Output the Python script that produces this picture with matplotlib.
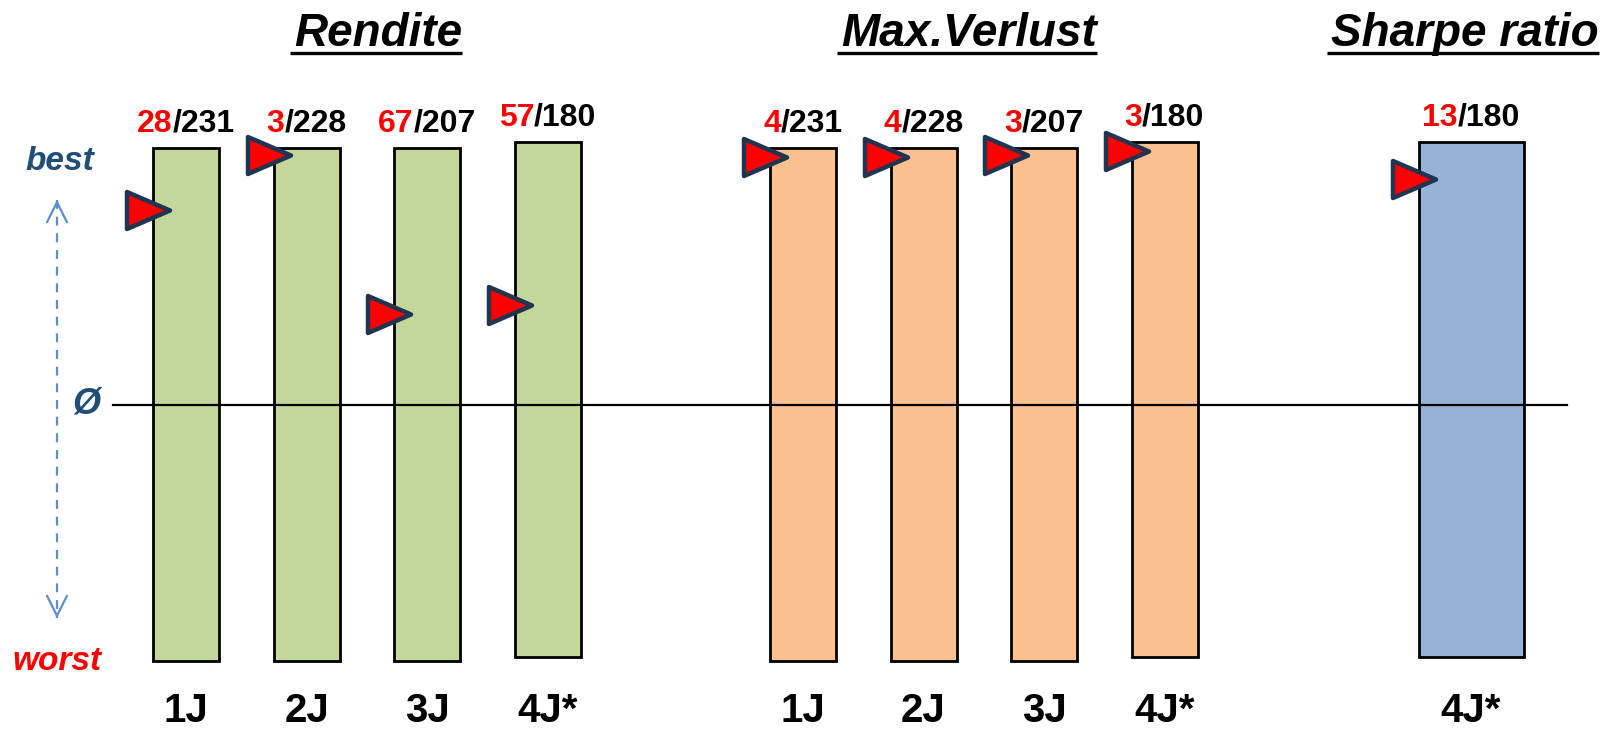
import matplotlib
matplotlib.use('Agg')
import matplotlib.pyplot as plt
from matplotlib.path import Path
from matplotlib.markers import MarkerStyle
from matplotlib import font_manager

# Data: rank of the fund / number of funds in the peer group
periods = ['1J', '2J', '3J', '4J*']
rendite_rank = [28, 3, 67, 57]
rendite_total = [231, 228, 207, 180]
verlust_rank = [4, 4, 3, 3]
verlust_total = [231, 228, 207, 180]
sharpe_periods = ['4J*']
sharpe_rank = [13]
sharpe_total = [180]

titles = ['Rendite', 'Max.Verlust', 'Sharpe ratio']
colors = ['#C4D79B', '#FAC090', '#95B3D7']

names = {f.name for f in font_manager.fontManager.ttflist}
if 'Liberation Sans Narrow' in names:
    lab_font, lab_size = 'Liberation Sans Narrow', 25
else:
    lab_font, lab_size = 'Liberation Sans', 23
base_font = 'Liberation Sans'

W, H = 1621, 730
fig = plt.figure(figsize=(W / 100, H / 100), dpi=100)
ax = fig.add_axes([0, 0, 1, 1])
# y: 0 = worst, 1 = best (bar spans 661px .. 148px)
BOT, UNIT = 661, 513


def py(p):
    return (BOT - p) / UNIT


ax.set_xlim(0, W)
ax.set_ylim(py(H), py(0))
ax.axis('off')
renderer = fig.canvas.get_renderer()

tri = Path([(1, 0), (-1, 0.86), (-1, -0.86), (1, 0)],
           [Path.MOVETO, Path.LINETO, Path.LINETO, Path.CLOSEPOLY])
tri_marker = MarkerStyle(tri, joinstyle='round')

groups = [
    (periods, rendite_rank, rendite_total, 186, 66),
    (periods, verlust_rank, verlust_total, 803, 66),
    (sharpe_periods, sharpe_rank, sharpe_total, 1471, 105),
]
title_x = [378, 969, 1465]
spacing = 120.5


def rank_label(xc, y, rank, total):
    t1 = ax.text(0, y, str(rank), color='red', fontsize=lab_size,
                 fontfamily=lab_font, fontweight='bold', va='baseline', ha='left')
    t2 = ax.text(0, y, '/' + str(total), color='black', fontsize=lab_size,
                 fontfamily=lab_font, fontweight='bold', va='baseline', ha='left')
    w1 = t1.get_window_extent(renderer).width
    w2 = t2.get_window_extent(renderer).width
    x0 = xc - (w1 + w2) / 2
    t1.set_x(x0)
    t2.set_x(x0 + w1)


for g, (labs, ranks, totals, x0, bw) in enumerate(groups):
    for i, (lab, r, n) in enumerate(zip(labs, ranks, totals)):
        xc = x0 + i * spacing
        if lab == '4J*':
            bottom, top = py(657), py(142)
        else:
            bottom, top = 0.0, 1.0
        ax.bar(xc, top - bottom, bottom=bottom, width=bw, color=colors[g],
               edgecolor='black', linewidth=2, zorder=2)
        ymark = top - r / n * (top - bottom)
        ax.plot(xc - bw / 2 - 5, ymark, marker=tri_marker, markersize=31,
                markerfacecolor='#FF0000', markeredgecolor='#1F3552',
                markeredgewidth=3.2, zorder=5)
        rank_label(xc, top + 16 / UNIT, r, n)
        ax.text(xc, py(722), lab, fontsize=29, fontfamily=base_font,
                fontweight='bold', ha='center', va='baseline')

    t = ax.text(title_x[g], py(46), titles[g], fontsize=33, fontfamily=base_font,
                fontweight='bold', fontstyle='italic', ha='center', va='baseline')
    bb = t.get_window_extent(renderer)
    ax.plot([bb.x0 - 4, bb.x1], [py(53), py(53)], color='black', lw=2.4,
            solid_capstyle='butt')

# average line
ax.plot([113, 1567], [0.5, 0.5], color='black', lw=1.6, zorder=3)

# left scale annotation
blue = '#1F4E79'
ax.text(60, py(170), 'best', color=blue, fontsize=24, fontfamily=base_font,
        fontweight='bold', fontstyle='italic', ha='center', va='baseline')
ax.text(57, py(670), 'worst', color='#FF0000', fontsize=24, fontfamily=base_font,
        fontweight='bold', fontstyle='italic', ha='center', va='baseline')
ax.text(86, 0.5, 'Ø', color=blue, fontsize=26, fontfamily=base_font,
        fontweight='bold', fontstyle='italic', ha='center', va='center')

acol = '#5B8FD0'
ax.plot([57, 57], [py(200), py(618)], color=acol, lw=1.6, ls=(0, (4, 3.5)))
head = '->,head_length=0.8,head_width=0.4'
ax.annotate('', xy=(57, py(197)), xytext=(57, py(205)),
            arrowprops=dict(arrowstyle=head, color=acol, lw=1.6, mutation_scale=18))
ax.annotate('', xy=(57, py(621)), xytext=(57, py(613)),
            arrowprops=dict(arrowstyle=head, color=acol, lw=1.6, mutation_scale=18))

plt.savefig('out.png', dpi=100)
